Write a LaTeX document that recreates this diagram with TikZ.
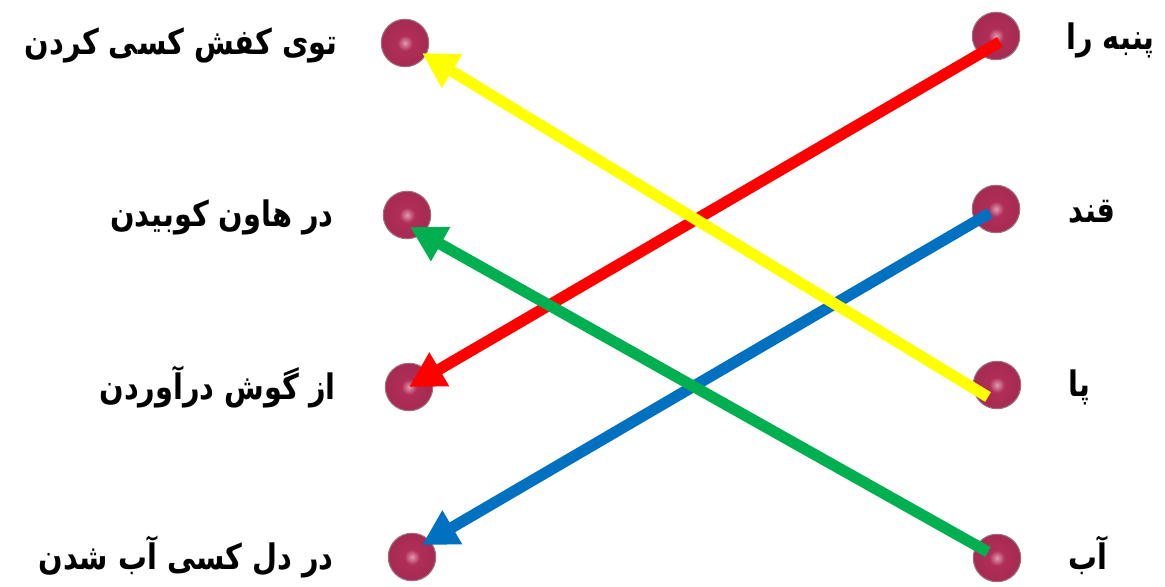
\documentclass[tikz,border=0pt]{standalone}
\usepackage{fontspec}
\newfontfamily\farsifont[Script=Arabic, FakeStretch=0.82]{DejaVu Sans}
\TeXXeTstate=1
\usepackage{xcolor}
\usetikzlibrary{arrows.meta, calc}
\definecolor{dotlight}{HTML}{E29AAE}
\definecolor{dotmid}{HTML}{B02E58}
\definecolor{dotdark}{HTML}{5C1028}
\definecolor{linered}{HTML}{FF0000}
\definecolor{lineyellow}{HTML}{FFFF00}
\definecolor{lineblue}{HTML}{0070C0}
\definecolor{linegreen}{HTML}{00B050}
\pgfdeclareradialshading{dotshade}{\pgfpoint{0bp}{0bp}}{%
	color(0bp)=(dotlight); color(8bp)=(dotmid); color(34bp)=(dotmid!80!dotdark);
	color(47bp)=(dotdark); color(50bp)=(dotdark)}
\tikzset{
	dot/.style={circle, minimum size=0.95cm, inner sep=0pt, shading=dotshade,
		draw=dotdark!60, line width=0.6pt},
	word/.style={font=\farsifont\bfseries\fontsize{20}{24}\selectfont, inner sep=0pt},
	match/.style={line width=6.4pt, -{Triangle[length=20pt, width=21pt]}}
}

\begin{document}
\begin{tikzpicture}[x=0.02cm, y=-0.02cm]
		% frame of the picture (pixel units)
		\useasboundingbox (0,0) rectangle (1165,587);
		
		% Left column: dots and phrases
		\node[dot] (l1) at (405, 43) {};
		\node[dot] (l2) at (407, 215) {};
		\node[dot] (l3) at (409, 387) {};
		\node[dot] (l4) at (412, 557) {};
		\node[word, anchor=east] (t1) at (338, 45) {\beginR توی کفش کسی کردن\endR};
		\node[word, anchor=east] (t2) at (334, 217) {\beginR در هاون کوبیدن\endR};
		\node[word, anchor=east] (t3) at (336, 387) {\beginR از گوش درآوردن\endR};
		\node[word, anchor=east] (t4) at (334, 557) {\beginR در دل کسی آب شدن\endR};
		
		% Right column: dots and words
		\node[dot] (r1) at (996, 36) {};
		\node[dot] (r2) at (996, 209) {};
		\node[dot] (r3) at (997, 385) {};
		\node[dot] (r4) at (997, 558) {};
		\node[word, anchor=west] (w1) at (1066, 40) {\beginR پنبه را\endR};
		\node[word, anchor=west] (w2) at (1068, 212) {\beginR قند\endR};
		\node[word, anchor=west] (w3) at (1068, 387) {\beginR پا\endR};
		\node[word, anchor=west] (w4) at (1068, 555) {\beginR آب\endR};
		
		% Matching arrows
		\draw[match, linered] ($(r1)+(4,6)$) -- (l3.center);
		\draw[match, lineblue] ($(r2)+(-6,4)$) -- ($(l4)+(10,-12)$);
		\draw[match, lineyellow] ($(r3)+(-9,12)$) -- ($(l1)+(17,10)$);
		\draw[match, linegreen] ($(r4)+(-9,-6)$) -- ($(l2)+(3,12)$);
		
	\end{tikzpicture}
\end{document}
